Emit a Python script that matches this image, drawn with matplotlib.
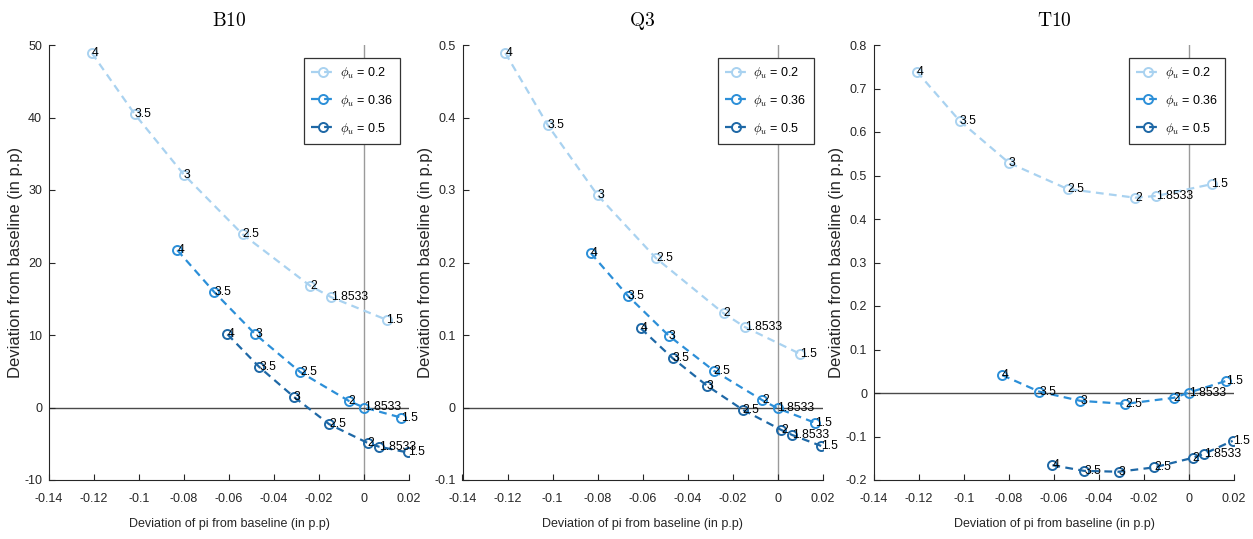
import matplotlib

matplotlib.use("Agg")
import matplotlib.pyplot as plt
from matplotlib.ticker import FuncFormatter


# phi_u sweep, deviation of pi (x) shared by all three panels
PHI_LABELS = ["0.2", "0.36", "0.5"]
POINT_LABELS = ["4", "3.5", "3", "2.5", "2", "1.8533", "1.5"]
X_LOW = [-0.121, -0.102, -0.080, -0.054, -0.024, -0.0145, 0.010]
X_MID = [-0.083, -0.0665, -0.0483, -0.0284, -0.0067, 0.0, 0.0166]
X_HIGH = [-0.0607, -0.0466, -0.0313, -0.0155, 0.0017, 0.0066, 0.0194]

Y_B10_LOW = [48.9, 40.5, 32.1, 23.9, 16.8, 15.2, 12.1]
Y_B10_MID = [21.7, 15.9, 10.1, 4.9, 0.9, 0.0, -1.4]
Y_B10_HIGH = [10.1, 5.6, 1.5, -2.3, -4.9, -5.4, -6.2]

Y_Q3_LOW = [0.489, 0.389, 0.293, 0.206, 0.130, 0.111, 0.074]
Y_Q3_MID = [0.213, 0.154, 0.099, 0.051, 0.010, -0.001, -0.021]
Y_Q3_HIGH = [0.109, 0.068, 0.030, -0.003, -0.031, -0.038, -0.053]

Y_T10_LOW = [0.739, 0.626, 0.529, 0.469, 0.449, 0.453, 0.480]
Y_T10_MID = [0.041, 0.003, -0.018, -0.025, -0.011, 0.001, 0.028]
Y_T10_HIGH = [-0.166, -0.179, -0.181, -0.171, -0.149, -0.140, -0.110]

X_TICKS = [-0.14, -0.12, -0.10, -0.08, -0.06, -0.04, -0.02, 0.0, 0.02]

PANELS = [
    ("B10", [Y_B10_LOW, Y_B10_MID, Y_B10_HIGH], (-10, 50), [-10, 0, 10, 20, 30, 40, 50]),
    ("Q3", [Y_Q3_LOW, Y_Q3_MID, Y_Q3_HIGH], (-0.1, 0.5), [-0.1, 0, 0.1, 0.2, 0.3, 0.4, 0.5]),
    ("T10", [Y_T10_LOW, Y_T10_MID, Y_T10_HIGH], (-0.2, 0.8),
     [-0.2, -0.1, 0, 0.1, 0.2, 0.3, 0.4, 0.5, 0.6, 0.7, 0.8]),
]

COLORS = ["#a9d2f0", "#2c8fd8", "#1e68a6"]
W, H = 1253, 539
PANEL_LEFT_PX = [49, 462.5, 874]


def fmt(v, pos):
    if abs(v) < 1e-12:
        return "0"
    return "%g" % round(v, 4)


def draw_panel(ax, title, series, ylim, yticks):
    xs = [X_LOW, X_MID, X_HIGH]
    ax.axvline(0, color="#9a9a9a", lw=1.0, zorder=1)
    ax.axhline(0, color="#4a4a4a", lw=1.0, zorder=1)

    for x_vals, y_vals, color, phi in zip(xs, series, COLORS, PHI_LABELS):
        ax.plot(x_vals, y_vals, color=color, lw=1.6, dashes=(3.5, 2.4),
                marker="o", markersize=6.5, markerfacecolor="none",
                markeredgewidth=1.4, label=r"$\phi_u$ = " + phi, zorder=3)
        for x, y, txt in zip(x_vals, y_vals, POINT_LABELS):
            ax.text(x, y, txt, fontsize=8.8, ha="left", va="center", color="black", zorder=4)

    ax.set_xlim(-0.14, 0.02)
    ax.set_ylim(*ylim)
    ax.set_xticks(X_TICKS)
    ax.set_yticks(yticks)
    ax.xaxis.set_major_formatter(FuncFormatter(fmt))
    ax.yaxis.set_major_formatter(FuncFormatter(fmt))
    ax.tick_params(direction="in", length=4, width=0.8, labelsize=9, colors="#262626")
    ax.tick_params(axis="x", pad=9)
    ax.tick_params(axis="y", pad=5)
    for side in ("top", "right"):
        ax.spines[side].set_visible(False)
    for side in ("left", "bottom"):
        ax.spines[side].set_color("#262626")
        ax.spines[side].set_linewidth(0.8)

    ax.set_title(r"$\mathrm{" + title + "}$", fontsize=14, pad=14)
    ax.set_xlabel("Deviation of pi from baseline (in p.p)", fontsize=9, color="#262626", labelpad=10)
    ax.set_ylabel("Deviation from baseline (in p.p)", fontsize=12, color="#262626", labelpad=1)

    leg = ax.legend(loc="upper right", bbox_to_anchor=(1 - 9 / 360, 1 - 13 / 435),
                    borderaxespad=0, fontsize=9, frameon=True, fancybox=False,
                    framealpha=1, edgecolor="#333333", handlelength=1.9,
                    labelspacing=0.95, borderpad=0.55, handletextpad=0.4)
    leg.get_frame().set_linewidth(0.9)
    leg.set_zorder(5)


def main():
    plt.rcParams["font.family"] = ["Liberation Sans", "DejaVu Sans"]
    plt.rcParams["mathtext.fontset"] = "cm"

    fig = plt.figure(figsize=(W / 100, H / 100), dpi=100)
    bottom = 1 - 480 / H
    height = 435 / H
    for left_px, (title, series, ylim, yticks) in zip(PANEL_LEFT_PX, PANELS):
        ax = fig.add_axes([left_px / W, bottom, 360 / W, height])
        draw_panel(ax, title, series, ylim, yticks)

    fig.savefig("out.png", dpi=100)
    plt.close(fig)


if __name__ == "__main__":
    main()
